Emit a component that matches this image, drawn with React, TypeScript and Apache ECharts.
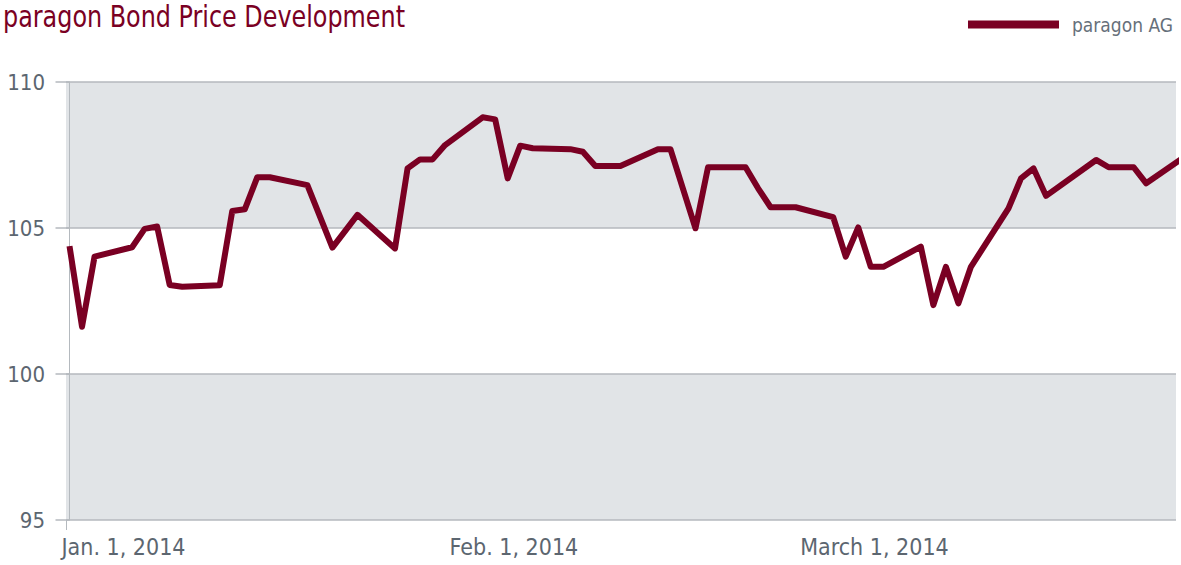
import React, { useEffect, useRef } from "react";
import * as echarts from "echarts";

const seriesName = "paragon AG";
const titleText = "paragon Bond Price Development";

const dates = [
  "2014-01-01", "2014-01-02", "2014-01-03", "2014-01-06", "2014-01-07", "2014-01-08",
  "2014-01-09", "2014-01-10", "2014-01-13", "2014-01-14", "2014-01-15", "2014-01-16",
  "2014-01-17", "2014-01-20", "2014-01-22", "2014-01-24", "2014-01-27", "2014-01-28",
  "2014-01-29", "2014-01-30", "2014-01-31", "2014-02-03", "2014-02-04", "2014-02-05",
  "2014-02-06", "2014-02-07", "2014-02-10", "2014-02-11", "2014-02-12", "2014-02-14",
  "2014-02-17", "2014-02-18", "2014-02-20", "2014-02-21", "2014-02-24", "2014-02-25",
  "2014-02-26", "2014-02-28", "2014-03-03", "2014-03-04", "2014-03-05", "2014-03-06",
  "2014-03-07", "2014-03-10", "2014-03-11", "2014-03-12", "2014-03-13", "2014-03-14",
  "2014-03-17", "2014-03-18", "2014-03-19", "2014-03-20", "2014-03-24", "2014-03-25",
  "2014-03-27", "2014-03-28", "2014-03-31",
];

const prices = [
  104.38, 101.62, 104.02, 104.34, 104.97, 105.05,
  103.05, 102.99, 103.04, 105.58, 105.64, 106.74,
  106.74, 106.47, 104.33, 105.45, 104.30, 107.04,
  107.35, 107.35, 107.84, 108.79, 108.72, 106.70,
  107.82, 107.73, 107.70, 107.61, 107.12, 107.12,
  107.70, 107.70, 104.99, 107.08, 107.08, 106.36,
  105.71, 105.71, 105.37, 104.02, 105.02, 103.67,
  103.67, 104.36, 102.36, 103.67, 102.42, 103.67,
  105.67, 106.70, 107.04, 106.10, 107.33, 107.08,
  107.08, 106.53, 107.42,
];

const xTickDates = ["2014-01-01", "2014-02-01", "2014-03-01"];
const xTickLabels = ["Jan. 1, 2014", "Feb. 1, 2014", "March 1, 2014"];

const yMin = 95;
const yMax = 110;
const yInterval = 5;

const DAY = 86400000;
const origin = Date.UTC(2014, 0, 1);
function dayIndex(s: string): number {
  const [y, m, d] = s.split("-").map(Number);
  return (Date.UTC(y, m - 1, d) - origin) / DAY;
}

const FONT = "'DejaVu Sans Condensed', 'Liberation Sans Narrow', 'Noto Sans', sans-serif";
const RED = "#7a0023";
const GREY_TEXT = "#5c6670";
const GRID_LINE = "#b4b9be";

export default function App() {
  const ref = useRef<HTMLDivElement>(null);

  useEffect(() => {
    if (!ref.current) return;
    const chart = echarts.init(ref.current, undefined, { renderer: "svg" });
    const xMin = -0.28;
    const xMax = 88.38;
    const tickVals = xTickDates.map(dayIndex);
    const labelMap: Record<number, string> = {};
    tickVals.forEach((v, i) => (labelMap[v] = xTickLabels[i]));

    chart.setOption({
      animation: false,
      textStyle: { fontFamily: FONT },
      graphic: [
        {
          type: "text",
          left: 3,
          top: 2,
          scaleX: 0.885,
          style: {
            text: titleText,
            fill: RED,
            font: `30px ${FONT}`,
          },
        },
      ],
      legend: {
        right: 8,
        top: 15,
        padding: 0,
        icon: "rect",
        itemWidth: 91,
        itemHeight: 8,
        textStyle: { color: "#66707a", fontSize: 19, fontFamily: FONT, padding: [0, 0, 0, 8] },
        data: [seriesName],
      },
      grid: { left: 66, right: 5, top: 82, bottom: 45 },
      xAxis: {
        type: "value",
        min: xMin,
        max: xMax,
        axisLine: { show: false },
        splitLine: { show: false },
        axisTick: {
          show: true,
          customValues: [xMin],
          length: 10,
          lineStyle: { color: GRID_LINE, width: 1 },
        },
        axisLabel: {
          customValues: tickVals,
          formatter: (v: number) => labelMap[v] ?? "",
          align: "left",
          padding: [0, 0, 0, -8],
          margin: 15,
          color: GREY_TEXT,
          fontSize: 23,
          fontFamily: FONT,
        },
      },
      yAxis: {
        type: "value",
        min: yMin,
        max: yMax,
        interval: yInterval,
        axisLine: { show: true, lineStyle: { color: GRID_LINE, width: 1 } },
        axisTick: { show: true, length: 14, lineStyle: { color: GRID_LINE, width: 1.5 } },
        axisLabel: { color: GREY_TEXT, fontSize: 22, margin: 21, fontFamily: FONT },
        splitLine: { show: true, lineStyle: { color: GRID_LINE, width: 1.5 } },
        splitArea: { show: true, areaStyle: { color: ["#e1e4e7", "#ffffff"] } },
      },
      series: [
        {
          name: seriesName,
          type: "line",
          data: dates.map((d, i) => [dayIndex(d), prices[i]]),
          symbol: "none",
          clip: true,
          lineStyle: { color: RED, width: 6, join: "round" },
          itemStyle: { color: RED },
        },
      ],
    });
    return () => chart.dispose();
  }, []);

  return (
    <div
      ref={ref}
      style={{ position: "absolute", left: 0, top: 0, width: 1181, height: 565 }}
    />
  );
}
